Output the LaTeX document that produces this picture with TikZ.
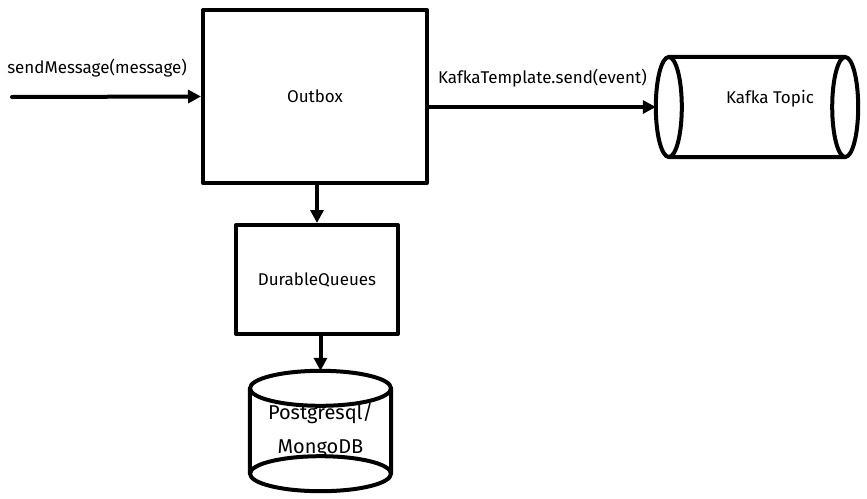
\documentclass[tikz,border=0pt]{standalone}
\usepackage{fontspec}
\setmainfont{Fira Sans}
\usetikzlibrary{arrows.meta}
\tikzset{
sketch/.style={line width=4pt, line cap=round, line join=round}, % the thick pen of the sketch
>={Triangle[length=13pt,width=13pt]}, % filled arrow heads
every picture/.style={font=\fontsize{17}{20}\selectfont}, % text size of the sketch
box/.style={draw, sketch, fill=white}, % plain rectangles
store/.style={inner sep=0pt}, % cylinders, outline drawn by hand
call/.style={above=29pt, inner sep=0pt, anchor=center}, % text over an arrow
}

\begin{document}
\begin{tikzpicture}[x=1pt, y=-1pt]
		\useasboundingbox (0,0) rectangle (867,498);
		\node[box, minimum width=224pt, minimum height=173pt] (outbox) at (315,96.5) {Outbox};
		\node[box, minimum width=162pt, minimum height=109pt] (dq) at (317,279.5) {DurableQueues};
		\node[store, minimum width=202pt, minimum height=100pt] (kafka) at (757,107) {\raisebox{20pt}{\hspace{26pt}Kafka Topic}};
		\node[store, minimum width=141pt, minimum height=120pt, align=center, font=\fontsize{20}{34}\selectfont] (db) at (320.5,431) {Postgresql/\\MongoDB};
		\coordinate (in) at (12,97);
		% kafka cylinder
		\draw[sketch] ([xshift=13pt]kafka.north west) -- ([xshift=-13pt]kafka.north east)
			([xshift=13pt]kafka.south west) -- ([xshift=-13pt]kafka.south east)
			([xshift=13pt]kafka.west) ellipse [x radius=13pt, y radius=50pt]
			([xshift=-13pt]kafka.east) ellipse [x radius=13pt, y radius=50pt];
		% database cylinder
		\draw[sketch] ([yshift=-17.5pt]db.north west) -- ([yshift=17.5pt]db.south west)
			([yshift=-17.5pt]db.north east) -- ([yshift=17.5pt]db.south east)
			([yshift=-17.5pt]db.north) ellipse [x radius=70.5pt, y radius=17.5pt]
			([yshift=17.5pt]db.south) ellipse [x radius=70.5pt, y radius=17.5pt];
		\draw[sketch, ->] (in) -- node[call, pos=0.45] {sendMessage(message)} (outbox.west);
		\draw[sketch, ->] (outbox.east |- kafka.west) -- node[call] {KafkaTemplate.send(event)} (kafka.west);
		\draw[sketch, ->] (dq.north |- outbox.south) -- (dq.north);
		\draw[sketch, ->] (db.north |- dq.south) -- (db.north);
	\end{tikzpicture}
\end{document}
